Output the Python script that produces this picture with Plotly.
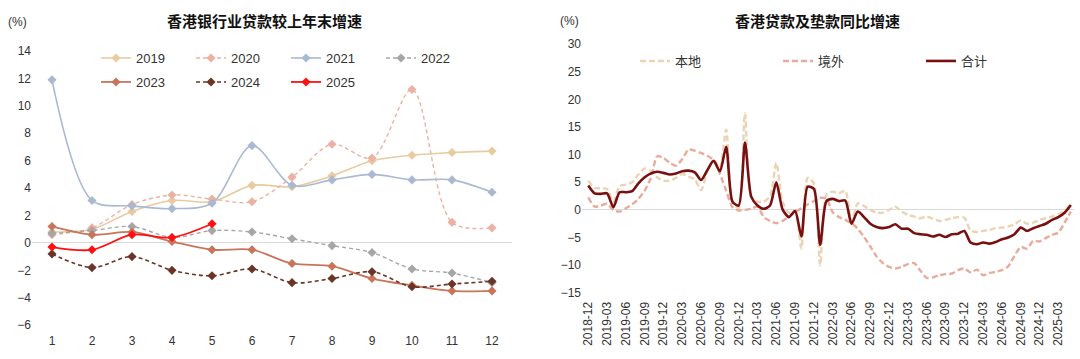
import plotly.graph_objects as go
import pandas as pd

# ---------------- Left chart data ----------------
months = list(range(1, 13))
years = ["2019", "2020", "2021", "2022", "2023", "2024", "2025"]
v2019 = [0.8, 1.0, 2.3, 3.1, 3.0, 4.2, 4.1, 4.9, 6.0, 6.4, 6.6, 6.7]
v2020 = [0.6, 1.1, 2.8, 3.5, 3.2, 3.0, 4.8, 7.2, 6.2, 11.2, 1.5, 1.1]
v2021 = [11.9, 3.1, 2.7, 2.5, 2.9, 7.1, 4.2, 4.6, 5.0, 4.6, 4.6, 3.7]
v2022 = [0.7, 0.9, 1.2, 0.4, 0.9, 0.8, 0.3, -0.2, -0.7, -1.9, -2.2, -2.9]
v2023 = [1.2, 0.6, 0.8, 0.1, -0.5, -0.5, -1.5, -1.7, -2.6, -3.1, -3.5, -3.5]
v2024 = [-0.8, -1.8, -1.0, -2.0, -2.4, -1.9, -2.9, -2.6, -2.1, -3.2, -3.0, -2.8]
v2025 = [-0.3, -0.5, 0.6, 0.4, 1.4]

# ---------------- Right chart data ----------------
dates = [p.strftime("%Y-%m") for p in pd.period_range("2018-12", "2025-05", freq="M")]
local = [5.3, 4.0, 3.9, 3.8, 1.5, 4.3, 4.6, 5.0, 6.4, 7.5, 7.0, 5.9, 5.3, 5.3, 5.8, 6.5,
         6.0, 5.5, 3.6, 7.0, 9.1, 7.6, 14.5, 1.5, 0.3, 17.5, 2.3, 1.5, 1.5, 2.5, 8.5, 1.5,
         -0.5, 0.0, -7.0, 5.8, 4.8, -10.0, 2.7, 3.3, 3.0, 3.5, -2.1, 1.2, 0.7, 0.0, -0.5,
         -0.5, 0.0, 0.6, -0.3, -0.9, -1.2, -1.5, -1.2, -1.6, -2.0, -1.8, -1.5, -1.3, -1.4,
         -3.7, -4.0, -3.8, -3.6, -3.3, -3.2, -3.0, -2.6, -1.9, -2.5, -2.3, -1.8, -1.5,
         -1.2, -0.8, -0.2, 1.3]
overseas = [2.3, 0.6, 0.8, 1.1, 0.0, -0.3, 0.3, 1.0, 2.0, 3.5, 5.8, 9.7, 9.4, 8.5, 8.0,
            9.2, 10.9, 10.7, 10.3, 9.8, 9.0, 6.5, 3.5, 0.5, -0.1, 0.0, 0.2, 0.6, -1.3,
            -2.0, -2.4, -2.0, -1.2, -0.4, 0.3, 1.0, 1.6, 2.2, 2.0, -0.4, -1.3, -1.8, -2.4,
            -3.4, -4.9, -6.6, -8.4, -9.6, -10.3, -10.6, -10.3, -9.8, -9.6, -11.0, -12.3,
            -12.2, -11.8, -11.6, -11.5, -10.9, -10.6, -11.3, -10.8, -11.8, -11.4, -11.2,
            -10.9, -10.2, -8.3, -6.7, -7.0, -5.6, -5.7, -5.1, -4.5, -4.1, -2.3, -0.3]
total = [4.4, 3.0, 2.9, 3.0, 0.5, 3.2, 3.2, 3.4, 4.8, 5.9, 6.6, 6.9, 6.7, 6.4, 6.6, 7.0,
         7.1, 6.8, 5.4, 7.2, 8.9, 7.0, 11.4, 1.5, 0.8, 12.2, 2.4, 0.8, 0.2, 0.8, 5.0, 0.1,
         -1.3, -0.2, -4.8, 4.2, 3.8, -6.3, 1.6, 2.0, 1.6, 1.7, -2.5, -0.3, -1.3, -2.5,
         -3.1, -3.3, -3.1, -2.6, -3.4, -3.4, -4.2, -4.4, -4.5, -4.8, -4.5, -4.9, -4.4,
         -4.3, -3.8, -5.9, -6.2, -5.9, -6.1, -5.8, -5.3, -5.0, -4.4, -3.2, -3.8, -3.3,
         -2.9, -2.5, -1.8, -1.3, -0.5, 0.9]
right_names = ["本地", "境外", "合计"]

FONT = "Arial, 'Liberation Sans', 'Noto Sans CJK SC', sans-serif"
W, H = 1080, 359

fig = go.Figure()

left_series = [
    ("2019", v2019, "#E8CBA0", "solid", 1.6, "legend"),
    ("2020", v2020, "#EBB2A3", "4px,3px", 1.4, "legend"),
    ("2021", v2021, "#AAB9D2", "solid", 1.6, "legend"),
    ("2022", v2022, "#A6A6A6", "4px,3px", 1.4, "legend"),
    ("2023", v2023, "#C9755C", "solid", 1.8, "legend2"),
    ("2024", v2024, "#6A3426", "4px,3px", 1.6, "legend2"),
    ("2025", v2025, "#FF1010", "solid", 1.8, "legend2"),
]
for name, vals, color, dash, lw, lg in left_series:
    fig.add_trace(go.Scatter(
        x=months[:len(vals)], y=vals, name=name, mode="lines+markers",
        line=dict(color=color, width=lw, dash=dash, shape="spline", smoothing=0.9),
        marker=dict(symbol="diamond", size=7, color=color),
        xaxis="x", yaxis="y", legend=lg,
    ))

right_series = [
    (right_names[0], local, "#EBD3B4", "6px,3px", 2.4),
    (right_names[1], overseas, "#E9AB9B", "6px,3px", 2.4),
    (right_names[2], total, "#780F10", "solid", 2.6),
]
for name, vals, color, dash, lw in right_series:
    fig.add_trace(go.Scatter(
        x=dates, y=vals, name=name, mode="lines",
        line=dict(color=color, width=lw, dash=dash, shape="spline", smoothing=0.7),
        xaxis="x2", yaxis="y2", legend="legend3",
    ))

def px_x(p):
    return p / W

def px_y(p):
    return 1 - p / H

tickfont = dict(family=FONT, size=12, color="#333333")
legfont = dict(family=FONT, size=13, color="#333333")

fig.update_layout(
    width=W, height=H,
    margin=dict(l=0, r=0, t=0, b=0),
    paper_bgcolor="white", plot_bgcolor="white",
    font=dict(family=FONT, size=12, color="#333333"),
    xaxis=dict(domain=[px_x(32), px_x(512)], range=[0.5, 12.5], tickvals=months,
               anchor="y", showgrid=False, zeroline=False, showline=False, ticks="",
               tickfont=tickfont, automargin=False),
    yaxis=dict(domain=[px_y(332), px_y(44.2)], range=[-6.5, 14.5], dtick=2, tick0=0,
               anchor="x", showgrid=False, zeroline=True, zerolinecolor="#D9D9D9", zerolinewidth=1,
               showline=False, ticks="", tickfont=tickfont, automargin=False),
    xaxis2=dict(domain=[px_x(582), px_x(1074)], range=[-1, 77.5], type="category",
                anchor="y2", tickvals=dates[::3], ticktext=dates[::3], tickangle=-90,
                showgrid=False, zeroline=False, showline=False, ticks="",
                tickfont=tickfont, automargin=False),
    yaxis2=dict(domain=[px_y(298.4), px_y(38.5)], range=[-16, 31], dtick=5, tick0=0,
                anchor="x2", showgrid=False, zeroline=True, zerolinecolor="#D9D9D9", zerolinewidth=1,
                showline=False, ticks="", tickfont=tickfont, automargin=False),
    legend=dict(orientation="h", x=px_x(96), y=px_y(58), xanchor="left", yanchor="middle",
                entrywidth=50, entrywidthmode="pixels", tracegroupgap=0,
                font=legfont, bgcolor="rgba(0,0,0,0)"),
    legend2=dict(orientation="h", x=px_x(96), y=px_y(82), xanchor="left", yanchor="middle",
                 entrywidth=50, entrywidthmode="pixels", tracegroupgap=0,
                 font=legfont, bgcolor="rgba(0,0,0,0)"),
    legend3=dict(orientation="h", x=px_x(635), y=px_y(61), xanchor="left", yanchor="middle",
                 entrywidth=98, entrywidthmode="pixels", tracegroupgap=0,
                 font=legfont, bgcolor="rgba(0,0,0,0)"),
    showlegend=True,
    annotations=[
        dict(text="<b>香港银行业贷款较上年末增速</b>", x=px_x(264), y=px_y(21), xref="paper", yref="paper",
             showarrow=False, font=dict(family=FONT, size=15, color="#111111"), xanchor="center", yanchor="middle"),
        dict(text="<b>香港贷款及垫款同比增速</b>", x=px_x(817), y=px_y(21), xref="paper", yref="paper",
             showarrow=False, font=dict(family=FONT, size=15, color="#111111"), xanchor="center", yanchor="middle"),
        dict(text="(%)", x=px_x(17.5), y=px_y(22.5), xref="paper", yref="paper", showarrow=False,
             font=dict(family=FONT, size=12, color="#333333"), xanchor="center", yanchor="middle"),
        dict(text="(%)", x=px_x(569.5), y=px_y(20.5), xref="paper", yref="paper", showarrow=False,
             font=dict(family=FONT, size=12, color="#333333"), xanchor="center", yanchor="middle"),
    ],
)

fig.write_html("out.html", config={"displayModeBar": False},
               post_script="document.body.style.margin='0';document.body.style.overflow='hidden';")
